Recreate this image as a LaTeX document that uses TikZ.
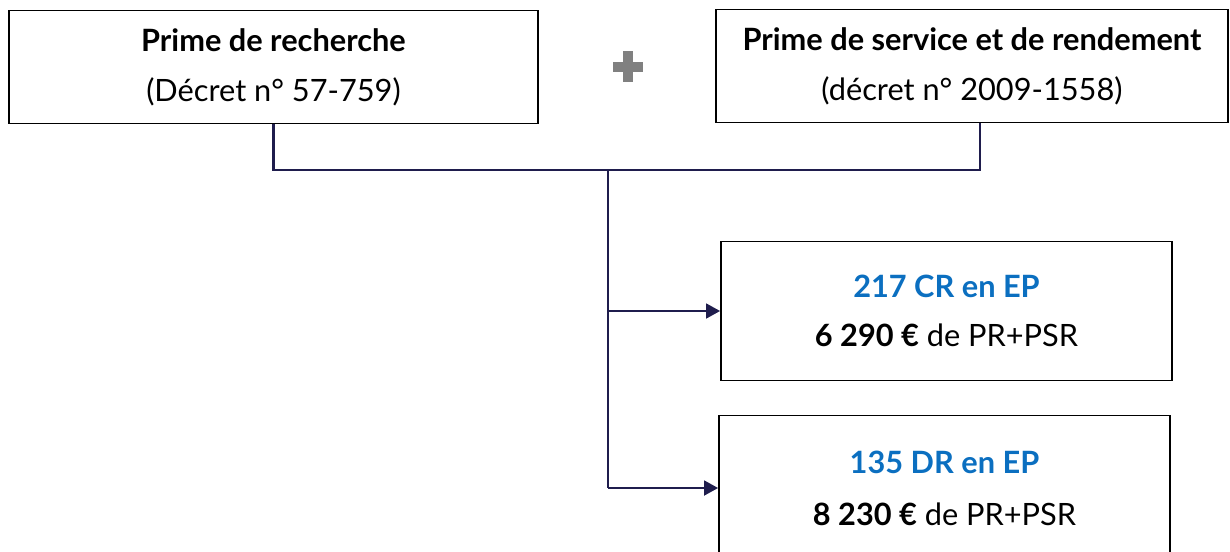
\documentclass[tikz,border=0pt]{standalone}
\usepackage{fontspec}
\setmainfont{Lato}
\usetikzlibrary{calc}
\usetikzlibrary{arrows.meta}
\definecolor{navy}{HTML}{1F1D4D}
\definecolor{bleu}{HTML}{0B6FC0}
\definecolor{gris}{HTML}{808080}
\tikzset{
  boite/.style={draw=black, line width=1.1pt, inner sep=0pt, align=center,
    font=\fontsize{17.5}{26.5}\selectfont},
  lien/.style={draw=navy, line width=1.2pt},
  fleche/.style={lien, -{Triangle[length=8pt,width=8.5pt]}},
}
\newcommand{\titre}[1]{{\bfseries\color{bleu}#1}}

\begin{document}
\begin{tikzpicture}[x=0.02cm, y=-0.02cm]
            \useasboundingbox (0, 0) rectangle (1230, 551);
            \clip (0, 0) rectangle (1230, 551);

            % les deux primes
            \node [boite, minimum width = 10.58cm, minimum height = 2.26cm] (recherche) at (273.5, 67)
                {\textbf{Prime de recherche}\\[2pt](Décret n° 57-759)};
            \node [boite, minimum width = 10.24cm, minimum height = 2.26cm] (rendement) at (972, 66)
                {\textbf{Prime de service et de rendement}\\[2pt](décret n° 2009-1558)};

            % le signe plus
            \fill [gris] (623, 51) rectangle (633, 82);
            \fill [gris] (613, 61.5) rectangle (643, 71.5);

            % les effectifs
            \node [boite, minimum width = 9.02cm, minimum height = 2.78cm] (cr) at (946.5, 311)
                {\titre{217 CR en EP}\\[1pt]\textbf{6 290 €} de PR+PSR};
            \node [boite, minimum width = 9.02cm, minimum height = 2.9cm] (dr) at (944.5, 488)
                {\titre{135 DR en EP}\\[3pt]\textbf{8 230 €} de PR+PSR};

            \coordinate (jonction) at (608, 170);

            \draw [lien] (recherche.south) |- (jonction) -| ($(rendement.south) + (8, 0)$);
            \draw [lien] (jonction) -- (jonction |- dr.west);
            \draw [fleche] (jonction |- cr.west) -- (cr.west);
            \draw [fleche] (jonction |- dr.west) -- (dr.west);
        \end{tikzpicture}
\end{document}
